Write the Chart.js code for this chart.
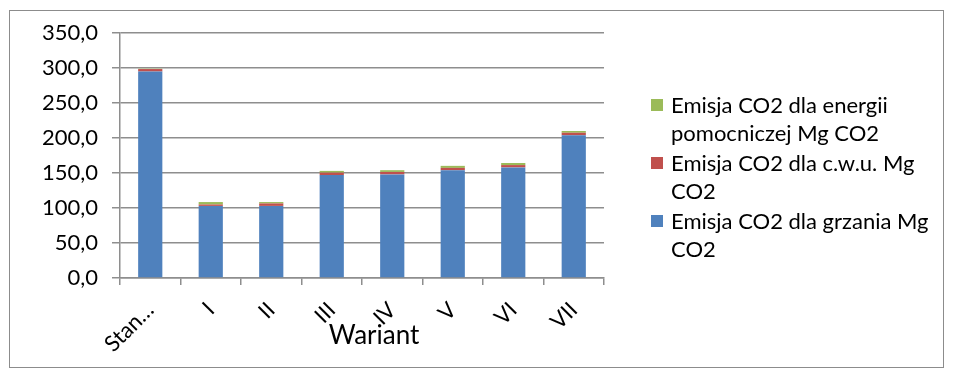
<!DOCTYPE html>
<html>
<head>
<meta charset="utf-8">
<script src="https://cdn.jsdelivr.net/npm/chart.js@4/dist/chart.umd.min.js"></script>
<style>
  html, body { margin: 0; padding: 0; background: #fff; }
  #wrap { position: relative; width: 955px; height: 372px; overflow: hidden; }
  #frame { position: absolute; left: 9px; top: 10px; width: 935px; height: 358px; border: 1px solid #8c8c8c; box-sizing: border-box; }
  #chart { position: absolute; left: 0; top: 0; }
  #xtitle { position: absolute; left: 374px; top: 334px; transform: translate(-50%, -50%); font-family: Lato, sans-serif; font-size: 26px; color: #000; white-space: nowrap; }
  #legend { position: absolute; left: 651px; top: 91px; font-family: Lato, sans-serif; font-size: 22px; color: #000; }
  .item { position: relative; padding-left: 20px; line-height: 28px; margin-bottom: 2px; width: 290px; white-space: nowrap; }
  .sw { position: absolute; left: 0; top: 8px; width: 12px; height: 12px; }
</style>
</head>
<body>
<div id="wrap">
  <div id="frame"></div>
  <canvas id="chart" width="955" height="372"></canvas>
  <div id="xtitle">Wariant</div>
  <div id="legend"></div>
</div>
<script>
/* ================================================
   CO2 emissions per variant — stacked bars
================================================ */

const CATEGORIES = ['Stan…', 'I', 'II', 'III', 'IV', 'V', 'VI', 'VII'];

const HEATING   = [295, 103, 103, 147, 148, 154, 158, 204];
const HOT_WATER = [3.5, 2, 3.5, 3.5, 3.5, 3.3, 3.3, 3.5];
const AUXILIARY = [0.5, 3.5, 2, 2.5, 2.5, 2.9, 3, 2.5];

const SERIES_LABELS = [
  'Emisja CO2 dla grzania Mg CO2',
  'Emisja CO2 dla c.w.u. Mg CO2',
  'Emisja CO2 dla energii pomocniczej Mg CO2',
];
const LEGEND_LINES = [
  ['Emisja CO2 dla grzania Mg', 'CO2'],
  ['Emisja CO2 dla c.w.u. Mg', 'CO2'],
  ['Emisja CO2 dla energii', 'pomocniczej Mg CO2'],
];
const COLORS = ['#4F81BD', '#C0504D', '#9BBB59'];

const Y_TICKS = [0, 50, 100, 150, 200, 250, 300, 350];

const FONT = 'Lato, "Open Sans", sans-serif';
const GRID = '#8e8e8e';

document.addEventListener('DOMContentLoaded', () => {
  buildChart();
  buildLegend();
});

function buildChart() {
  const ctx = document.getElementById('chart');
  const values = [HEATING, HOT_WATER, AUXILIARY];

  new Chart(ctx, {
    type: 'bar',
    data: {
      labels: CATEGORIES,
      datasets: values.map((data, i) => ({
        label: SERIES_LABELS[i],
        data: data,
        backgroundColor: COLORS[i],
        borderWidth: 0,
        categoryPercentage: 1,
        barPercentage: 0.4,
      })),
    },
    options: {
      responsive: false,
      animation: false,
      layout: { padding: { left: 10, right: 351, top: 33, bottom: 20 } },
      plugins: { legend: { display: false }, tooltip: { enabled: false } },
      scales: {
        x: {
          stacked: true,
          grid: { display: true, drawOnChartArea: false, color: GRID, lineWidth: 1.5, tickLength: 7, offset: true },
          border: { display: true, color: GRID, width: 1.5 },
          ticks: { font: { family: FONT, size: 22 }, color: '#000', minRotation: 45, maxRotation: 45, padding: 12 },
          afterFit: s => { s.height = 74; },
        },
        y: {
          stacked: true,
          min: 0,
          max: 350,
          afterBuildTicks: s => { s.ticks = Y_TICKS.map(v => ({ value: v })); },
          grid: { color: GRID, lineWidth: 1.5, tickLength: 8 },
          border: { display: true, color: GRID, width: 1.5 },
          ticks: {
            font: { family: FONT, size: 22 },
            color: '#000',
            padding: 14,
            callback: v => v.toFixed(1).replace('.', ','),
          },
          afterFit: s => { s.width = 110; },
        },
      },
    },
  });
}

function buildLegend() {
  const box = document.getElementById('legend');
  // legend lists the top series first, as in the original
  box.innerHTML = [2, 1, 0].map(i => `
    <div class="item">
      <span class="sw" style="background:${COLORS[i]}"></span>
      ${LEGEND_LINES[i].join('<br>')}
    </div>`).join('');
}
</script>
</body>
</html>
